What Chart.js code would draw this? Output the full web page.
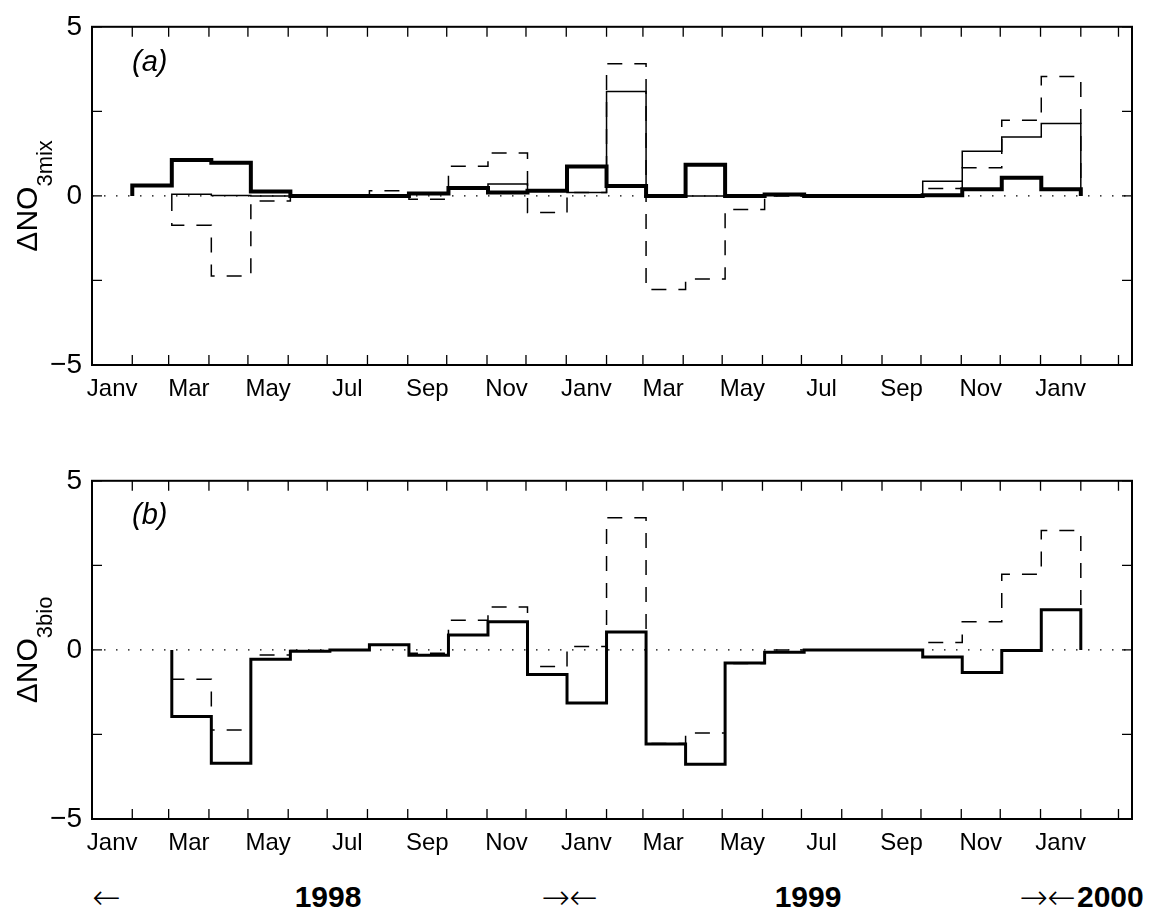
<!DOCTYPE html>
<html>
<head>
<meta charset="utf-8">
<script src="https://cdn.jsdelivr.net/npm/chart.js@4.4.1/dist/chart.umd.min.js"></script>
<style>
html,body{margin:0;padding:0;background:#fff;}
#wrap{position:relative;width:1153px;height:916px;overflow:hidden;font-family:"Liberation Sans",Arial,Helvetica,sans-serif;color:#000;}
.cv{position:absolute;left:0;width:1153px;height:420px;}
.yr{position:absolute;top:882px;line-height:30px;font-size:30px;white-space:nowrap;}
.ar{position:absolute;top:880px;line-height:34px;font-size:34px;white-space:nowrap;font-family:"DejaVu Sans",sans-serif;font-weight:200;letter-spacing:-1px;}
.b{font-weight:bold;}
.pl{position:absolute;left:132px;font-size:29px;line-height:29px;font-style:italic;}
</style>
</head>
<body>
<div id="wrap">
  <div class="cv" style="top:0"><canvas id="ca" width="1153" height="420"></canvas></div>
  <div class="cv" style="top:454px"><canvas id="cb" width="1153" height="420"></canvas></div>
  <div class="pl" style="top:47px">(a)</div>
  <div class="pl" style="top:500px">(b)</div>
  <div class="ar" style="left:92px">←</div>
  <div class="yr b" style="left:328px;transform:translateX(-50%)">1998</div>
  <div class="ar" style="left:569px;transform:translateX(-50%)">→←</div>
  <div class="yr b" style="left:808px;transform:translateX(-50%)">1999</div>
  <div class="ar" style="left:1047px;transform:translateX(-50%)">→←</div>
  <div class="yr b" style="left:1077px">2000</div>
</div>
<script>
// ---- data (monthly bins, Feb 1998 .. Jan 2000) ----
const binMonths = ['1998-02','1998-03','1998-04','1998-05','1998-06','1998-07','1998-08','1998-09','1998-10','1998-11','1998-12',
  '1999-01','1999-02','1999-03','1999-04','1999-05','1999-06','1999-07','1999-08','1999-09','1999-10','1999-11','1999-12','2000-01'];
const dNO3mix    = [0.31, 1.06, 0.98, 0.13, 0.00, 0.00, 0.00, 0.07, 0.23, 0.10, 0.15, 0.87, 0.29, 0.00, 0.92, 0.00, 0.04, 0.00, 0.00, 0.00, 0.02, 0.20, 0.54, 0.20];
const dNO3mixAlt = [null, 0.05, 0.01, 0.00, 0.00, 0.00, 0.00, 0.07, 0.23, 0.35, 0.15, 0.10, 3.09, 0.00, 0.00, 0.00, 0.03, 0.00, 0.00, 0.00, 0.43, 1.32, 1.74, 2.14];
const dNO3total  = [null, -0.87, -2.37, -0.15, -0.02, 0.00, 0.15, -0.10, 0.88, 1.27, -0.49, 0.10, 3.91, -2.77, -2.46, -0.40, 0.00, 0.00, 0.00, 0.00, 0.22, 0.83, 2.24, 3.53];
const dNO3bio    = [null, -1.97, -3.35, -0.28, -0.04, 0.00, 0.15, -0.16, 0.44, 0.83, -0.73, -1.57, 0.53, -2.78, -3.38, -0.39, -0.07, 0.00, 0.00, 0.00, -0.21, -0.67, -0.02, 1.19];
const tickLabels = ['Janv','Mar','May','Jul','Sep','Nov','Janv','Mar','May','Jul','Sep','Nov','Janv'];
const yTickLabels = [-5, 0, 5];
const yTickMarks = [-5, -2.5, 0, 2.5, 5];

// ---- time axis helpers (days since 1 Jan 1998) ----
const DAY = 86400000;
const dayOf = (y, m) => (Date.UTC(y, m, 1) - Date.UTC(1998, 0, 1)) / DAY;
const binDays = binMonths.map(s => { const [y, m] = s.split('-').map(Number); return dayOf(y, m - 1); });
const binWidth = 365 / 12;
const edge = i => binDays[0] + i * binWidth;
const xMax = 800.4;
const labelDays = tickLabels.map((_, k) => { const y = 1998 + Math.floor(2 * k / 12), m = (2 * k) % 12; return (dayOf(y, m) + dayOf(y, m + 1)) / 2; });
const monthMarks = []; for (let n = 1; n <= 26; n++) monthMarks.push(dayOf(1998, n));

function stepPoints(vals) {
  const pts = []; let started = false;
  vals.forEach((v, i) => {
    if (v == null) return;
    if (!started) { pts.push({x: edge(i), y: 0}); started = true; }
    pts.push({x: edge(i), y: v});
  });
  pts.push({x: edge(vals.length), y: 0});
  return pts;
}

const FAMILY = '"Liberation Sans", Arial, Helvetica, sans-serif';
Chart.defaults.color = '#000';
Chart.defaults.font.family = FAMILY;

const framePlugin = {
  id: 'frame',
  afterDraw(chart) {
    const {ctx, chartArea: a, scales: {x, y}} = chart;
    ctx.save();
    ctx.strokeStyle = '#000';
    ctx.lineWidth = 1.3;
    ctx.beginPath();
    monthMarks.forEach(d => {
      const px = x.getPixelForValue(d);
      if (px <= a.left + 1 || px >= a.right - 1) return;
      ctx.moveTo(px, a.top); ctx.lineTo(px, a.top + 10);
      ctx.moveTo(px, a.bottom); ctx.lineTo(px, a.bottom - 10);
    });
    yTickMarks.forEach(v => {
      const py = y.getPixelForValue(v);
      ctx.moveTo(a.left, py); ctx.lineTo(a.left + 10, py);
      ctx.moveTo(a.right, py); ctx.lineTo(a.right - 10, py);
    });
    ctx.stroke();
    ctx.lineWidth = 2;
    ctx.strokeRect(a.left, a.top, a.right - a.left, a.bottom - a.top);
    ctx.restore();
  }
};

const yTitlePlugin = {
  id: 'ytitle',
  afterDraw(chart, args, opts) {
    const {ctx} = chart;
    const y0 = chart.scales.y.getPixelForValue(0);
    ctx.save();
    ctx.translate(opts.x, y0);
    ctx.rotate(-Math.PI / 2);
    ctx.fillStyle = '#000';
    ctx.textBaseline = 'alphabetic';
    ctx.textAlign = 'left';
    ctx.font = '30px ' + FAMILY;
    const w1 = ctx.measureText(opts.main).width;
    ctx.font = '22px ' + FAMILY;
    const w2 = ctx.measureText(opts.sub).width;
    const start = -(w1 + w2) / 2;
    ctx.font = '30px ' + FAMILY;
    ctx.fillText(opts.main, start, 0);
    ctx.font = '22px ' + FAMILY;
    ctx.fillText(opts.sub, start + w1, 15);
    ctx.restore();
  }
};

function lineDs(label, vals, width, dash) {
  return {
    label, data: stepPoints(vals), stepped: 'before', borderColor: '#000', borderWidth: width,
    borderDash: dash || [], pointRadius: 0, fill: false, borderJoinStyle: 'miter', borderCapStyle: 'butt'
  };
}
function zeroDs() {
  return { label: 'zero', data: [{x: 0, y: 0}, {x: xMax, y: 0}], borderColor: '#000', borderWidth: 1.2,
    borderDash: [1.5, 10.5], pointRadius: 0, fill: false };
}

function makeChart(id, datasets, sub) {
  return new Chart(document.getElementById(id), {
    type: 'line',
    data: { datasets },
    options: {
      responsive: false, animation: false,
      layout: { padding: { top: 20, right: 21, bottom: 0, left: 0 } },
      plugins: { legend: { display: false }, tooltip: { enabled: false },
        ytitle: { x: 37, main: 'ΔNO', sub: sub } },
      scales: {
        x: {
          type: 'linear', min: 0, max: xMax,
          afterBuildTicks: s => { s.ticks = labelDays.map(v => ({value: v})); },
          afterFit: s => { s.height = 55; },
          ticks: { autoSkip: false, maxRotation: 0, minRotation: 0, padding: 10, color: '#000',
            font: { size: 24, family: FAMILY }, callback: (v, i) => tickLabels[i] },
          grid: { display: false, drawTicks: false }, border: { display: false }
        },
        y: {
          min: -5, max: 5,
          afterBuildTicks: s => { s.ticks = yTickLabels.map(v => ({value: v})); },
          afterFit: s => { s.width = 92; },
          ticks: { padding: 10, color: '#000', font: { size: 28, family: FAMILY },
            callback: v => v < 0 ? '\u2212' + Math.abs(v) : String(v) },
          grid: { display: false, drawTicks: false }, border: { display: false }
        }
      }
    },
    plugins: [framePlugin, yTitlePlugin]
  });
}

makeChart('ca', [
  lineDs('ΔNO3mix', dNO3mix, 4),
  lineDs('ΔNO3mix (alt)', dNO3mixAlt, 1.5),
  lineDs('ΔNO3 total', dNO3total, 1.5, [15, 12]),
  zeroDs()
], '3mix');

makeChart('cb', [
  lineDs('ΔNO3bio', dNO3bio, 3),
  lineDs('ΔNO3 total', dNO3total, 1.5, [15, 12]),
  zeroDs()
], '3bio');
</script>
</body>
</html>
